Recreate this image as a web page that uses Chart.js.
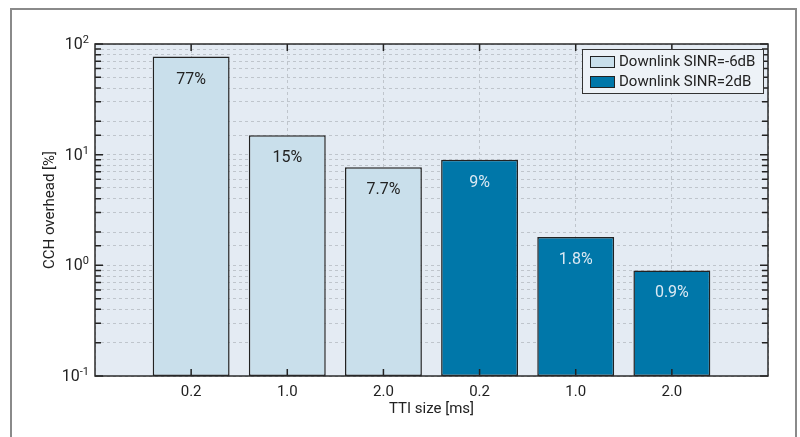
<!DOCTYPE html>
<html><head><meta charset="utf-8">
<script src="https://cdn.jsdelivr.net/npm/chart.js@4/dist/chart.umd.min.js"></script>
<style>html,body{margin:0;padding:0;background:#fff}#wrap{width:800px;height:437px}</style>
</head><body><div id="wrap"><canvas id="c" width="800" height="437"></canvas></div>
<script>
const categories = ['0.2', '1.0', '2.0', '0.2', '1.0', '2.0'];
const seriesNames = ['Downlink SINR=-6dB', 'Downlink SINR=2dB'];
const sinrMinus6 = [77, 15, 7.7];
const sinr2 = [9, 1.8, 0.9];
const barLabels = ['77%', '15%', '7.7%', '9%', '1.8%', '0.9%'];
const yTickBase = '10';
const yTickExponents = { '-1': '-1', '0': '0', '1': '1', '2': '2' };
const xTitle = 'TTI size [ms]';
const yTitle = 'CCH overhead [%]';

const FONT = "Roboto, 'Liberation Sans', sans-serif";
const colors = ['#c9dfeb', '#0077a9'];
const labelColors = ['#222222', '#dbe9f3'];

// x positions: pad with empty slots at both ends
const xLabels = [''].concat(categories, ['']);
const data1 = [null].concat(sinrMinus6, [null, null, null, null]);
const data2 = [null, null, null, null].concat(sinr2, [null]);

const decorPlugin = {
  id: 'decor',
  beforeDraw(chart) {
    const { ctx, chartArea: a } = chart;
    ctx.save();
    ctx.fillStyle = '#ffffff';
    ctx.fillRect(0, 0, chart.width, chart.height);
    ctx.strokeStyle = '#8a8a8a';
    ctx.lineWidth = 2;
    ctx.beginPath();
    ctx.moveTo(11, 440); ctx.lineTo(11, 9); ctx.lineTo(796, 9); ctx.lineTo(796, 440);
    ctx.stroke();
    ctx.fillStyle = '#e4ebf3';
    ctx.fillRect(a.left, a.top, a.right - a.left, a.bottom - a.top);
    ctx.restore();
  },
  afterDatasetsDraw(chart) {
    const { ctx, chartArea: a } = chart;
    ctx.save();
    ctx.font = '16px ' + FONT;
    ctx.textAlign = 'center';
    ctx.textBaseline = 'middle';
    let k = 0;
    chart.data.datasets.forEach((ds, di) => {
      const meta = chart.getDatasetMeta(di);
      meta.data.forEach((el, i) => {
        if (ds.data[i] == null) return;
        ctx.fillStyle = labelColors[di];
        ctx.fillText(barLabels[k++], el.x, el.y + 23);
      });
    });
    const ys = chart.scales.y;
    ctx.strokeStyle = '#222';
    ctx.lineWidth = 1.5;
    ys.ticks.forEach(t => {
      const p = ys.getPixelForValue(t.value);
      const lg = Math.log10(t.value);
      const r = Math.round(lg);
      const major = Math.abs(lg - r) < 1e-9;
      const len = major ? 8 : 6;
      ctx.beginPath();
      ctx.moveTo(a.left, p); ctx.lineTo(a.left + len, p);
      ctx.moveTo(a.right, p); ctx.lineTo(a.right - len, p);
      ctx.stroke();
      if (major) {
        // tick label 10^n with superscript
        const exp = yTickExponents[String(r)];
        const xr = a.left - 6;
        ctx.fillStyle = '#222';
        ctx.textAlign = 'right';
        ctx.font = '11px ' + FONT;
        ctx.textBaseline = 'alphabetic';
        const ew = ctx.measureText(exp).width;
        ctx.fillText(exp, xr, p - 1);
        ctx.font = '16px ' + FONT;
        ctx.textBaseline = 'middle';
        ctx.fillText(yTickBase, xr - ew, p + 1);
      }
    });
    const xs = chart.scales.x;
    for (let i = 1; i < xLabels.length - 1; i++) {
      const p = xs.getPixelForValue(i);
      ctx.beginPath();
      ctx.moveTo(p, a.top); ctx.lineTo(p, a.top + 7);
      ctx.moveTo(p, a.bottom); ctx.lineTo(p, a.bottom - 7);
      ctx.stroke();
    }
    ctx.strokeStyle = '#2b2b2b';
    ctx.lineWidth = 1.5;
    ctx.strokeRect(a.left, a.top, a.right - a.left, a.bottom - a.top);
    // legend
    const lx = 582, ly = 49, lw = 181, lh = 44;
    ctx.fillStyle = '#edf2f7';
    ctx.fillRect(lx, ly, lw, lh);
    ctx.strokeStyle = '#333';
    ctx.lineWidth = 1;
    ctx.strokeRect(lx + 0.5, ly + 0.5, lw, lh);
    ctx.font = '15px ' + FONT;
    ctx.textAlign = 'left';
    ctx.textBaseline = 'middle';
    chart.data.datasets.forEach((ds, di) => {
      const cy = 62 + di * 20;
      ctx.fillStyle = ds.backgroundColor;
      ctx.fillRect(590, cy - 5, 24, 10);
      ctx.strokeStyle = '#222';
      ctx.lineWidth = 1;
      ctx.strokeRect(590.5, cy - 5.5, 24, 11);
      ctx.fillStyle = '#222';
      ctx.fillText(ds.label, 619, cy);
    });
    ctx.restore();
  }
};

new Chart(document.getElementById('c'), {
  type: 'bar',
  data: {
    labels: xLabels,
    datasets: [
      { label: seriesNames[0], data: data1, backgroundColor: colors[0], borderColor: '#222', borderWidth: 1.5, borderSkipped: false },
      { label: seriesNames[1], data: data2, backgroundColor: colors[1], borderColor: '#222', borderWidth: 1.5, borderSkipped: false }
    ]
  },
  options: {
    responsive: false,
    animation: false,
    devicePixelRatio: 1,
    layout: { padding: { top: 44, right: 32, left: 0, bottom: 0 } },
    datasets: { bar: { grouped: false, categoryPercentage: 1, barPercentage: 0.8 } },
    plugins: { legend: { display: false }, tooltip: { enabled: false } },
    scales: {
      x: {
        offset: false,
        grid: { offset: false, color: '#bfc5cc', lineWidth: 1, drawTicks: false },
        border: { display: false, dash: [3, 3] },
        ticks: { color: '#222', font: { family: FONT, size: 15 }, padding: 7, autoSkip: false, maxRotation: 0 },
        title: { display: true, text: xTitle, color: '#222', font: { family: FONT, size: 15 }, padding: { top: 0, bottom: 19 } },
        afterFit(s) { s.height = 61; }
      },
      y: {
        type: 'logarithmic',
        min: 0.1,
        max: 100,
        grid: { color: '#bfc5cc', lineWidth: 1, drawTicks: false },
        border: { display: false, dash: [3, 3] },
        ticks: { display: false, autoSkip: false },
        title: { display: true, text: yTitle, color: '#222', font: { family: FONT, size: 15 }, padding: { top: 41, bottom: 0 } },
        afterFit(s) { s.width = 95; }
      }
    }
  },
  plugins: [decorPlugin]
});
</script>
</body></html>
